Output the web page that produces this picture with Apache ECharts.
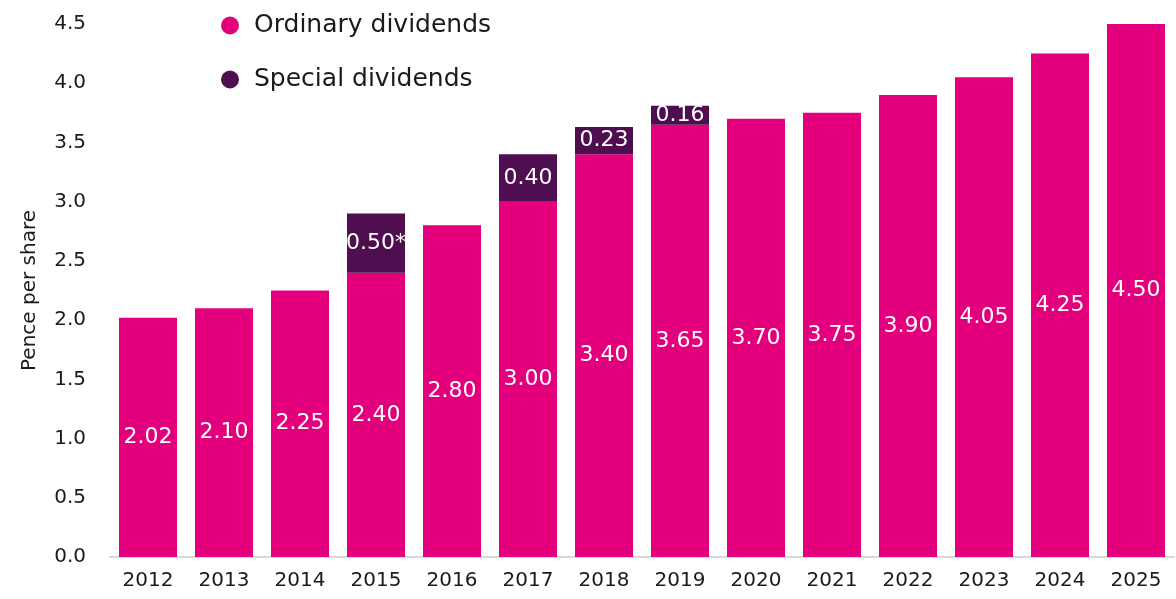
<!DOCTYPE html>
<html>
<head>
<meta charset="utf-8">
<script src="https://cdn.jsdelivr.net/npm/echarts@6/dist/echarts.min.js"></script>
<style>html,body{margin:0;padding:0;background:#fff}#c{width:1176px;height:599px}</style>
</head>
<body>
<div id="c"></div>
<script>
const years = ['2012','2013','2014','2015','2016','2017','2018','2019','2020','2021','2022','2023','2024','2025'];
const ordinary = [2.02,2.10,2.25,2.40,2.80,3.00,3.40,3.65,3.70,3.75,3.90,4.05,4.25,4.50];
const special = [null,null,null,0.50,null,0.40,0.23,0.16,null,null,null,null,null,null];
const specialNotes = ['','','','*','','','','','','','','','',''];
const yTicks = ['0.0','0.5','1.0','1.5','2.0','2.5','3.0','3.5','4.0','4.5'];

const FONT = '"DejaVu Sans", sans-serif';
const chart = echarts.init(document.getElementById('c'), null, {renderer:'canvas'});
chart.setOption({
  animation:false,
  textStyle:{fontFamily:FONT},
  grid:{left:110,right:2,top:24,bottom:42,containLabel:false},
  legend:{
    orient:'vertical', left:216, top:8, itemGap:29,
    icon:'circle', itemWidth:18, itemHeight:18,
    textStyle:{fontSize:25,color:'#1a1a1a',fontFamily:FONT,padding:[0,0,0,10]},
    data:['Ordinary dividends','Special dividends']
  },
  xAxis:{
    type:'category', data:years,
    axisLine:{lineStyle:{color:'#d9d9d9',width:2}},
    axisTick:{show:false},
    axisLabel:{fontSize:20,color:'#1a1a1a',margin:14,fontFamily:FONT}
  },
  yAxis:{
    type:'value', min:0, max:4.5, interval:0.5,
    name:'Pence per share', nameLocation:'middle', nameGap:70, nameRotate:90,
    nameTextStyle:{fontSize:20,color:'#1a1a1a',fontFamily:FONT},
    splitLine:{show:false}, axisLine:{show:false}, axisTick:{show:false},
    axisLabel:{fontSize:20,color:'#1a1a1a',margin:24,fontFamily:FONT,
      formatter:(v)=>yTicks[Math.round(v/0.5)]}
  },
  series:[
    {name:'Ordinary dividends', type:'bar', stack:'d', data:ordinary, barWidth:58,
     itemStyle:{color:'#E4007C'},
     label:{show:true,position:'inside',color:'#fff',fontSize:22,fontFamily:FONT,
       formatter:(p)=>p.value.toFixed(2)}},
    {name:'Special dividends', type:'bar', stack:'d', data:special, barWidth:58,
     itemStyle:{color:'#4F0E4F'},
     label:{show:true,position:'inside',color:'#fff',fontSize:22,fontFamily:FONT,
       formatter:(p)=>p.value.toFixed(2)+specialNotes[p.dataIndex]}}
  ]
});
</script>
</body>
</html>
